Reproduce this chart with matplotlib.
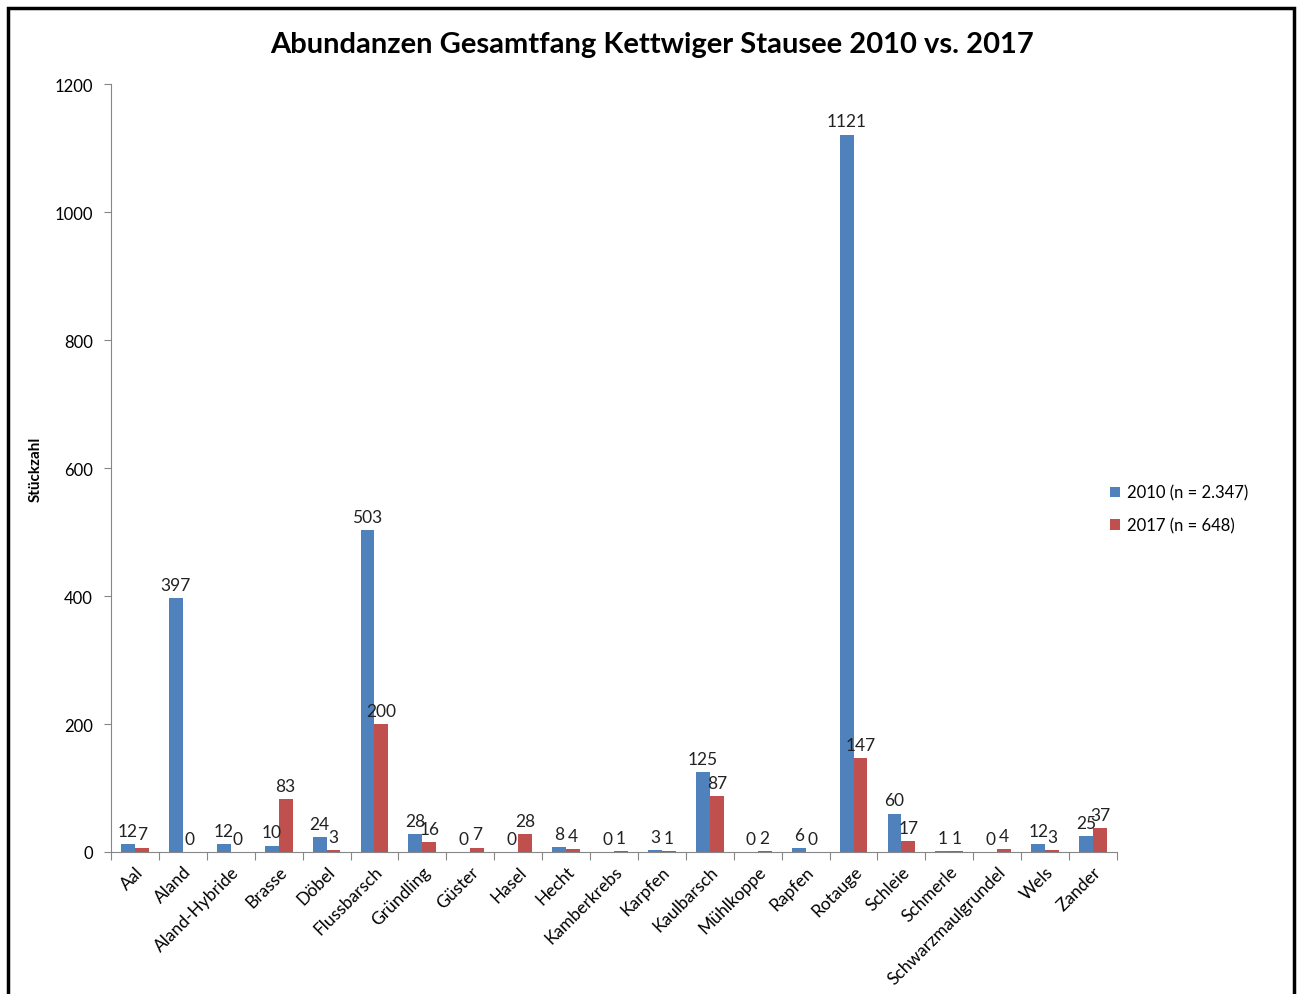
import numpy as np
import matplotlib.pyplot as plt
from matplotlib.patches import Rectangle

plt.rcParams['font.family'] = ['Lato', 'DejaVu Sans']

species = ['Aal', 'Aland', 'Aland-Hybride', 'Brasse', 'Döbel', 'Flussbarsch',
           'Gründling', 'Güster', 'Hasel', 'Hecht', 'Kamberkrebs', 'Karpfen',
           'Kaulbarsch', 'Mühlkoppe', 'Rapfen', 'Rotauge', 'Schleie', 'Schmerle',
           'Schwarzmaulgrundel', 'Wels', 'Zander']
vals_2010 = [12, 397, 12, 10, 24, 503, 28, 0, 0, 8, 0, 3, 125, 0, 6, 1121, 60, 1, 0, 12, 25]
vals_2017 = [7, 0, 0, 83, 3, 200, 16, 7, 28, 4, 1, 1, 87, 2, 0, 147, 17, 1, 4, 3, 37]
labels = ['2010 (n = 2.347)', '2017 (n = 648)']

BLUE = '#4F81BD'
RED = '#C0504D'
AXIS = '#868686'

fig = plt.figure(figsize=(12.99, 9.95), dpi=100)
ax = fig.add_axes([111 / 1299, 1 - 853 / 995, 1006 / 1299, 768 / 995])

x = np.arange(len(species))
w = 0.29
b1 = ax.bar(x - w / 2, vals_2010, w, color=BLUE, label=labels[0])
b2 = ax.bar(x + w / 2, vals_2017, w, color=RED, label=labels[1])

for bars, vals in ((b1, vals_2010), (b2, vals_2017)):
    for rect, v in zip(bars, vals):
        ax.text(rect.get_x() + rect.get_width() / 2, v + 8, str(v),
                ha='center', va='bottom', fontsize=12.5, color='#222222')

ax.set_xlim(-0.5, len(species) - 0.5)
ax.set_ylim(0, 1200)
ax.set_yticks(range(0, 1201, 200))
ax.tick_params(axis='y', labelsize=12, length=5, color=AXIS, pad=8)

# category ticks sit between the groups
ax.set_xticks(np.arange(-0.5, len(species), 1.0))
ax.set_xticklabels([])
ax.set_xticks(x, minor=True)
ax.set_xticklabels(species, minor=True, rotation=45, ha='right',
                   rotation_mode='anchor', fontsize=12.5)
ax.tick_params(axis='x', which='major', length=6, color=AXIS)
ax.tick_params(axis='x', which='minor', length=0, pad=8)

for s in ['top', 'right']:
    ax.spines[s].set_visible(False)
for s in ['left', 'bottom']:
    ax.spines[s].set_color(AXIS)

ax.set_ylabel('Stückzahl', fontsize=11, fontweight='bold')
ax.yaxis.set_label_coords((43 - 111) / 1006, 0.5)

fig.text(652 / 1299, 1 - 45 / 995, 'Abundanzen Gesamtfang Kettwiger Stausee 2010 vs. 2017',
         ha='center', va='center', fontsize=21, fontweight='bold')

fig.legend(handles=[b1, b2], labels=labels, loc='center left',
           bbox_to_anchor=(1095 / 1299, 1 - 510 / 995), frameon=False,
           fontsize=12, handlelength=0.6, handleheight=0.6,
           handletextpad=0.4, labelspacing=1.0)

# outer chart frame
fig.patches.append(Rectangle((8 / 1299, -0.05), 1286 / 1299, 1.05 - 9 / 995,
                             transform=fig.transFigure, fill=False,
                             edgecolor='black', linewidth=2.5))

fig.savefig('out.png', dpi=100)
